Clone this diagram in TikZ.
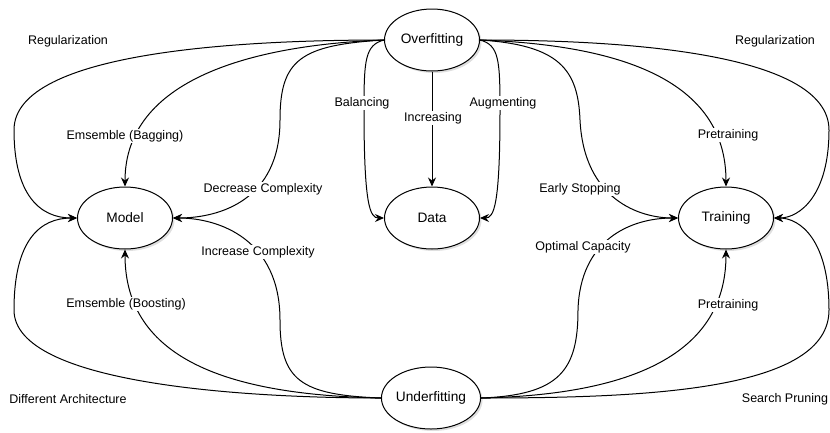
\documentclass[tikz,border=0pt]{standalone}
\usepackage{fontspec}
\setmainfont{Liberation Sans}
\usetikzlibrary{shapes.geometric,arrows.meta,shadows}

\begin{document}
\begin{tikzpicture}[x=1pt,y=-1pt,>={Stealth[length=9pt,width=8pt,inset=3pt]},
    state/.style={draw,ellipse,line width=1pt,fill=white,minimum width=95pt,minimum height=62pt,inner sep=0pt,font=\fontsize{13.7}{16}\selectfont,drop shadow={shadow xshift=2pt,shadow yshift=-2pt,opacity=0.25}},
    edge/.style={->,line width=1pt},
    lbl/.style={fill=white,inner sep=1pt,font=\fontsize{12.5}{15}\selectfont}]
    \useasboundingbox (0,0) rectangle (830,432);
    \node[state] (over) at (432,40) {Overfitting};
    \node[state] (model) at (125,218) {Model};
    \node[state] (data) at (432,218) {Data};
    \node[state] (train) at (726,218) {Training};
    \node[state] (under) at (431,398) {Underfitting};
    \draw[edge] (over.west) .. controls (250,40) and (14,50) .. (14,130) .. controls (14,195) and (40,218) .. (model.west);
    \draw[edge] (over.west) .. controls (250,45) and (125,80) .. (model.north);
    \draw[edge] (over.west) .. controls (300,45) and (280,60) .. (280,120) .. controls (280,200) and (220,218) .. (model.east);
    \draw[edge] (over.west) .. controls (365,45) and (364,60) .. (364,110) .. controls (364,205) and (370,218) .. (data.west);
    \draw[edge] (over) -- (data);
    \draw[edge] (over.east) .. controls (499,45) and (500,60) .. (500,110) .. controls (500,205) and (494,218) .. (data.east);
    \draw[edge] (over.east) .. controls (560,45) and (578,70) .. (580,120) .. controls (584,200) and (640,218) .. (train.west);
    \draw[edge] (over.east) .. controls (620,45) and (726,80) .. (train.north);
    \draw[edge] (over.east) .. controls (610,40) and (829,50) .. (829,130) .. controls (829,195) and (800,218) .. (train.east);
    \draw[edge] (under.west) .. controls (250,398) and (14,385) .. (14,310) .. controls (14,240) and (40,218) .. (model.west);
    \draw[edge] (under.west) .. controls (230,395) and (125,360) .. (model.south);
    \draw[edge] (under.west) .. controls (300,395) and (280,380) .. (280,320) .. controls (280,240) and (220,218) .. (model.east);
    \draw[edge] (under.east) .. controls (560,395) and (578,370) .. (578,310) .. controls (580,240) and (630,218) .. (train.west);
    \draw[edge] (under.east) .. controls (620,395) and (726,360) .. (train.south);
    \draw[edge] (under.east) .. controls (650,398) and (829,390) .. (829,310) .. controls (829,240) and (800,218) .. (train.east);
    \node[lbl] at (68,41) {Regularization};
    \node[lbl] at (125,136) {Emsemble (Bagging)};
    \node[lbl] at (263,189) {Decrease Complexity};
    \node[lbl] at (362,103) {Balancing};
    \node[lbl] at (433,118) {Increasing};
    \node[lbl] at (503,103) {Augmenting};
    \node[lbl] at (580,189) {Early Stopping};
    \node[lbl] at (728,135) {Pretraining};
    \node[lbl] at (775,41) {Regularization};
    \node[lbl] at (258,252) {Increase Complexity};
    \node[lbl] at (126,304) {Emsemble (Boosting)};
    \node[lbl] at (68,399) {Different Architecture};
    \node[lbl] at (583,247) {Optimal Capacity};
    \node[lbl] at (728,305) {Pretraining};
    \node[lbl] at (785,399) {Search Pruning};
\end{tikzpicture}
\end{document}
